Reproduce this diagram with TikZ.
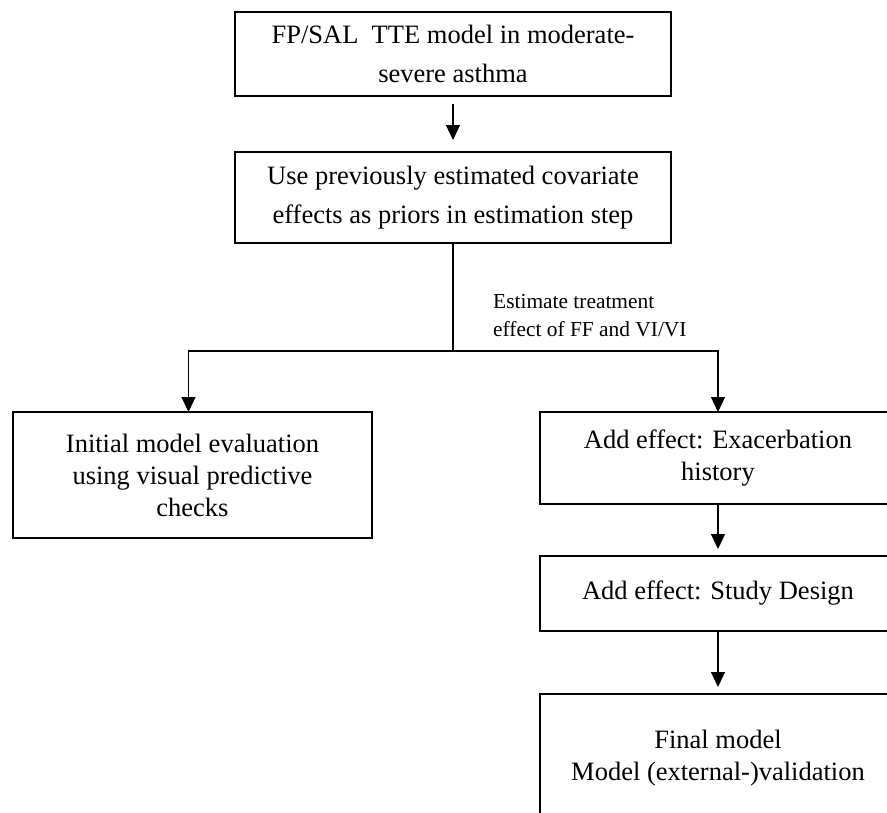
\documentclass[tikz,border=0pt]{standalone}
\usepackage{fontspec}
\setmainfont{Liberation Serif}
\usetikzlibrary{arrows.meta,positioning}
\tikzset{
  flow/.style={-{Triangle[length=15pt,width=14pt]},line width=1.2pt,draw=black},
  link/.style={line width=1.2pt,draw=black},
  box/.style={draw=black,line width=2.7pt,outer sep=0pt,align=center,
              font=\fontsize{26.5}{32}\selectfont},
  widebox/.style={box,minimum width=436pt,font=\fontsize{26.5}{39}\selectfont},
  sidebox/.style={box,minimum width=356pt},
  note/.style={align=left,inner sep=0pt,font=\fontsize{21.4}{28}\selectfont}
}

\begin{document}
\begin{tikzpicture}[x=1pt,y=1pt]
  \clip (0,0) rectangle (887,-812);
  \node[widebox,minimum height=84pt] (fpsal) at (453,-54)
    {FP/SAL\ \ TTE model in moderate-\\severe asthma};
  \node[widebox,minimum height=91pt,below=56pt of fpsal] (priors)
    {Use previously estimated covariate\\effects as priors in estimation step};
  \draw[flow,shorten <=8pt,shorten >=12pt] (fpsal)--(priors);

  \coordinate (split) at (453,-351);
  \draw[link] (priors.south)--(split);
  \node[note,anchor=north west] (estimate) at (493,-294)
    {Estimate treatment\\effect of FF and VI/VI};

  \node[box,minimum width=359pt,minimum height=126pt] (initial) at (192.5,-475)
    {Initial model evaluation\\using visual predictive\\checks};
  \node[sidebox,minimum height=92pt] (exacer) at (718,-458)
    {Add effect: Exacerbation\\history};
  \node[sidebox,minimum height=75pt,below=52pt of exacer] (design)
    {Add effect: Study Design};
  \node[sidebox,minimum height=128pt,below=63pt of design] (final)
    {Final model\\Model (external-)validation};
  \draw[flow] (split) -| ([xshift=-4pt]initial.north);
  \draw[flow] (split) -| (exacer.north);
  \draw[flow,shorten >=7pt] (exacer)--(design);
  \draw[flow,shorten >=7pt] (design)--(final);
\end{tikzpicture}
\end{document}
